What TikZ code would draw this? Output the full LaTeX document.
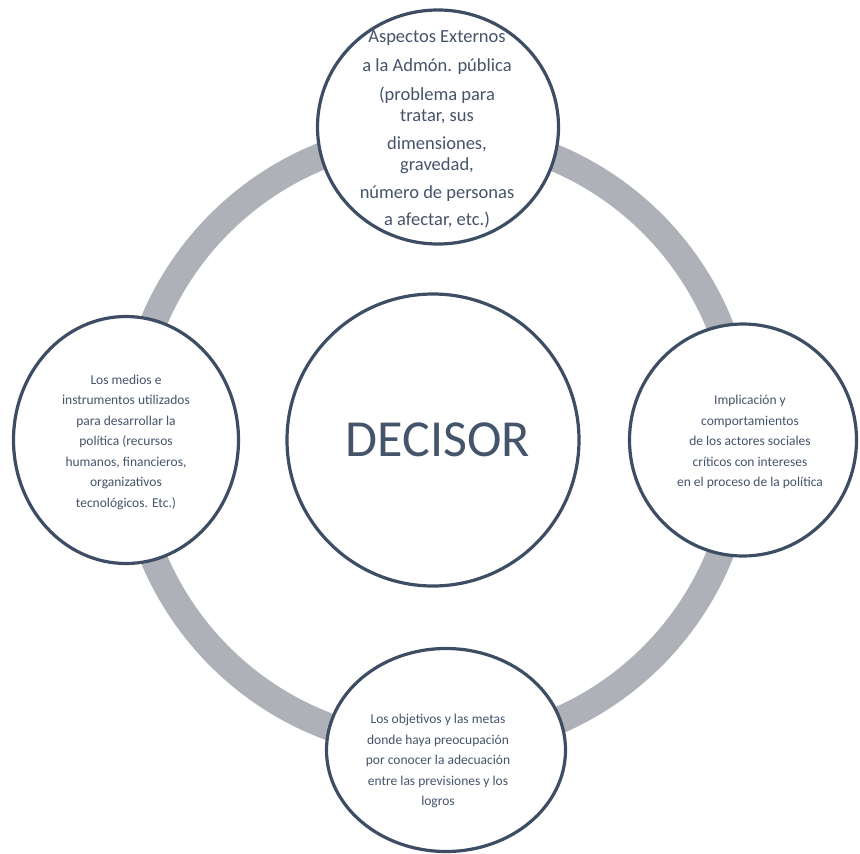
\documentclass[tikz,border=0pt]{standalone}
\usepackage{fontspec}
\setmainfont{Carlito}
\usetikzlibrary{shapes.geometric}
\definecolor{rimcol}{HTML}{3D4D63}
\definecolor{ringcol}{HTML}{AEB1B7}
\definecolor{txtcol}{HTML}{44546A}
\tikzset{
  bubble/.style={ellipse, draw=rimcol, line width=3.2pt, fill=white, inner sep=0pt},
  bubbletext/.style={align=center, text=txtcol, font=\fontsize{13.5}{20.5}\selectfont}
}
\begin{document}
\begin{tikzpicture}[x=1pt, y=-1pt]
    \def\rr{306} % radio del anillo
    \def\rw{27} % grosor del anillo
    \useasboundingbox (0,0) rectangle (860,854);
    \coordinate (centro) at (436,440);

    % anillo gris detras de los circulos
    \draw [ringcol, line width=\rw pt] (centro) circle (\rr pt);

    % circulo central
    \node [bubble, minimum size=292pt] (decisor) at (433,440) {};
    \node [text=txtcol, font=\fontsize{52}{60}\selectfont] (decisor-t) at (438,440) {DECISOR};

    % arriba
    \node [bubble, minimum width=241pt, minimum height=234pt] (externos) at (438,127) {};
    \node [bubbletext, font=\fontsize{18.5}{21}\selectfont] (externos-t) at (437,129)
      {Aspectos Externos\\[8pt] a la Admón. pública\\[8pt] (problema para\\ tratar, sus\\[7pt]
       dimensiones,\\ gravedad,\\[7pt] número de personas\\[6pt] a afectar, etc.)};

    % izquierda
    \node [bubble, minimum width=225pt, minimum height=247pt] (medios) at (126,440) {};
    \node [bubbletext] (medios-t) at (126,442)
      {Los medios e\\ instrumentos utilizados\\ para desarrollar la\\ política (recursos\\
       humanos, financieros,\\ organizativos\\ tecnológicos. Etc.)};

    % derecha
    \node [bubble, minimum width=227pt, minimum height=232pt] (actores) at (743,440) {};
    \node [bubbletext] (actores-t) at (750,442)
      {Implicación y\\ comportamientos\\ de los actores sociales\\ críticos con intereses\\
       en el proceso de la política};

    % abajo
    \node [bubble, minimum width=239pt, minimum height=203pt] (objetivos) at (446,750) {};
    \node [bubbletext] (objetivos-t) at (438,761)
      {Los objetivos y las metas\\ donde haya preocupación\\ por conocer la adecuación\\
       entre las previsiones y los\\ logros};
\end{tikzpicture}
\end{document}
